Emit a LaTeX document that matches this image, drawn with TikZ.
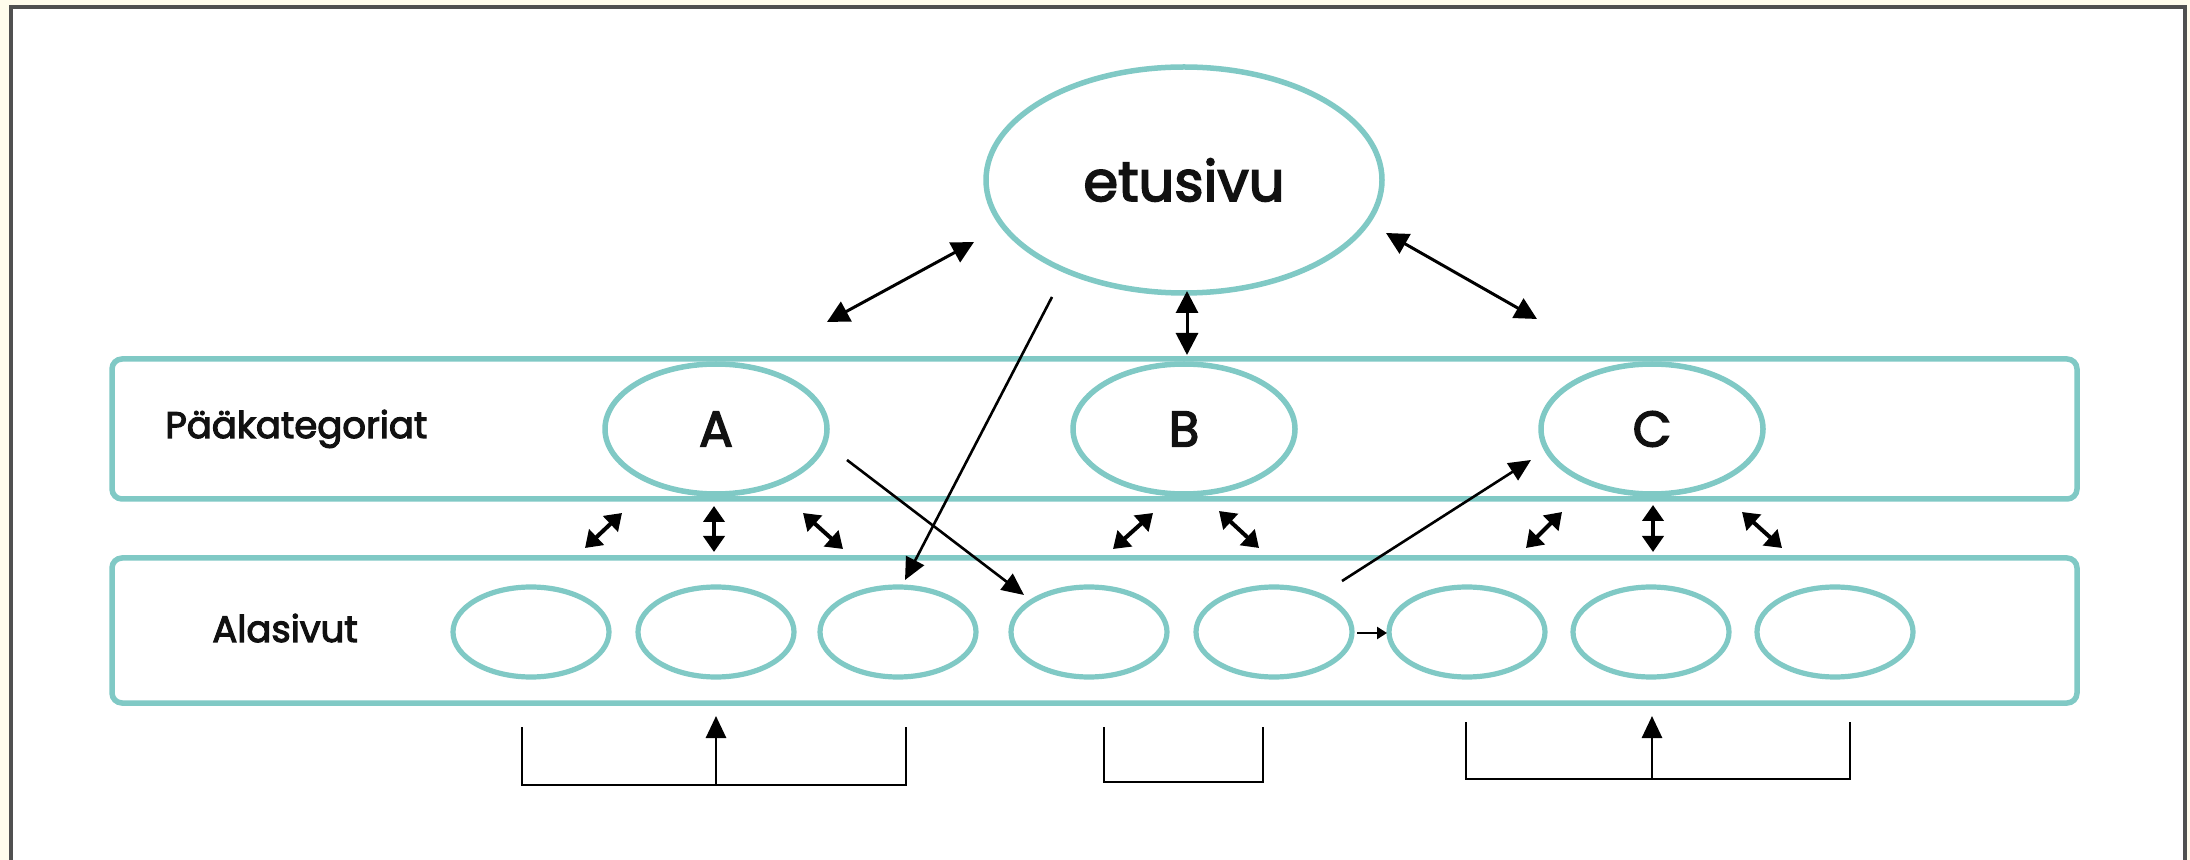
\documentclass[tikz,border=0pt]{standalone}
\usepackage{fontspec}
\setmainfont{Poppins}
\newfontfamily\gothic{Poppins}[FakeBold=3]
\usetikzlibrary{arrows.meta,shapes.geometric,calc}
\definecolor{tealline}{HTML}{80C9C5}
\definecolor{framegray}{HTML}{505050}
\definecolor{creambg}{HTML}{FFFCEC}
\definecolor{inktext}{HTML}{111111}
\tikzset{
  tealbox/.style={rectangle, draw=tealline, line width=2.75pt, rounded corners=5pt, inner sep=0pt},
  bigell/.style={ellipse, draw=tealline, line width=2.75pt, inner sep=0pt, text=inktext},
  subell/.style={ellipse, draw=tealline, line width=2.6pt, inner sep=0pt, minimum width=78pt, minimum height=45pt},
  lbl/.style={text=inktext, inner sep=0pt, font=\gothic\fontsize{18.5}{22}\selectfont},
  bigdbl/.style={line width=1.5pt, {Triangle[length=11pt,width=11pt]}-{Triangle[length=11pt,width=11pt]}},
  smalldbl/.style={line width=2pt, {Triangle[length=8pt,width=10.5pt]}-{Triangle[length=8pt,width=10.5pt]}},
  longarr/.style={line width=1.3pt, -{Triangle[length=11pt,width=10pt]}},
  tinyarr/.style={line width=1.4pt, -{Triangle[length=5pt,width=6pt]}},
  brack/.style={line width=1.4pt},
  brackarr/.style={line width=1.4pt, -{Triangle[length=11pt,width=10pt]}}
}
\begin{document}
\begin{tikzpicture}[x=0.5pt,y=-0.5pt]
\useasboundingbox (0,0) rectangle (2190,860);
\clip (0,0) rectangle (2190,860);
\fill[creambg] (0,0) rectangle (2190,860);
\draw[framegray, line width=2.2pt, fill=white] (11,7) rectangle (2185,900);

% category rows
\node[tealbox, minimum width=982.5pt, minimum height=70pt] (pk) at (1094.5,429) {};
\node[tealbox, minimum width=982.5pt, minimum height=72.5pt] (al) at (1094.5,630.5) {};

\node[lbl, anchor=base west] (pklbl) at (165,438) {Pääkategoriat};
\node[lbl, anchor=base west] (allbl) at (212,642) {Alasivut};

% front page
\node[bigell, minimum width=198pt, minimum height=113pt, font=\gothic\fontsize{28}{32}\selectfont] (etu) at (1184,180) {etusivu};

% main categories
\node[bigell, minimum width=111pt, minimum height=65pt, font=\gothic\fontsize{25}{30}\selectfont] (A) at (716,429) {A};
\node[bigell, minimum width=111pt, minimum height=65pt, font=\gothic\fontsize{25}{30}\selectfont] (B) at (1184,429) {B};
\node[bigell, minimum width=111pt, minimum height=65pt, font=\gothic\fontsize{25}{30}\selectfont] (C) at (1652,429) {C};

% sub pages
\node[subell] (s1) at (531,632) {};
\node[subell] (s2) at (716,632) {};
\node[subell] (s3) at (898,632) {};
\node[subell] (s4) at (1089,632) {};
\node[subell] (s5) at (1274,632) {};
\node[subell] (s6) at (1467,632) {};
\node[subell] (s7) at (1651,632) {};
\node[subell] (s8) at (1835,632) {};

% free ends of arrows
\coordinate (e1a) at (974,242);  \coordinate (e1b) at (827,322);
\coordinate (e2a) at (1187,291); \coordinate (e2b) at (1187,355);
\coordinate (e3a) at (1386,233); \coordinate (e3b) at (1537,319);
\coordinate (l1a) at (1052,297); \coordinate (l1b) at (905,580);
\coordinate (l2a) at (847,460);  \coordinate (l2b) at (1024,595);
\coordinate (l3a) at (1342,581); \coordinate (l3b) at (1531,460);
\coordinate (t1a) at (1357,633); \coordinate (t1b) at (1387,633);

\draw[bigdbl] (e1a) -- (e1b);
\draw[bigdbl] (e2a) -- (e2b);
\draw[bigdbl] (e3a) -- (e3b);

\draw[longarr] (l1a) -- (l1b);
\draw[longarr] (l2a) -- (l2b);
\draw[longarr] (l3a) -- (l3b);
\draw[tinyarr] (t1a) -- (t1b);

% small double arrows between rows
\coordinate (a1a) at (585,548);  \coordinate (a1b) at (622,513);
\coordinate (a2a) at (714,506);  \coordinate (a2b) at (714,552);
\coordinate (a3a) at (803,513);  \coordinate (a3b) at (843,549);
\coordinate (b1a) at (1113,549); \coordinate (b1b) at (1153,513);
\coordinate (b2a) at (1219,511); \coordinate (b2b) at (1259,548);
\coordinate (c1a) at (1526,548); \coordinate (c1b) at (1562,512);
\coordinate (c2a) at (1653,505); \coordinate (c2b) at (1653,552);
\coordinate (c3a) at (1742,512); \coordinate (c3b) at (1782,548);
\foreach \p in {a1,a2,a3,b1,b2,c1,c2,c3}{
  \draw[smalldbl] (\p a) -- (\p b);
}

% brackets
\coordinate (k1a) at (522,727); \coordinate (k1b) at (906,727); \coordinate (k1m) at (716,785); \coordinate (k1t) at (716,716);
\draw[brack] (k1a) -- (522,785) -- (906,785) -- (k1b);
\draw[brackarr] (k1m) -- (k1t);
\coordinate (k2a) at (1104,727); \coordinate (k2b) at (1263,727);
\draw[brack] (k2a) -- (1104,782) -- (1263,782) -- (k2b);
\coordinate (k3a) at (1466,722); \coordinate (k3b) at (1850,722); \coordinate (k3m) at (1652,779); \coordinate (k3t) at (1652,716);
\draw[brack] (k3a) -- (1466,779) -- (1850,779) -- (k3b);
\draw[brackarr] (k3m) -- (k3t);
\end{tikzpicture}
\end{document}
